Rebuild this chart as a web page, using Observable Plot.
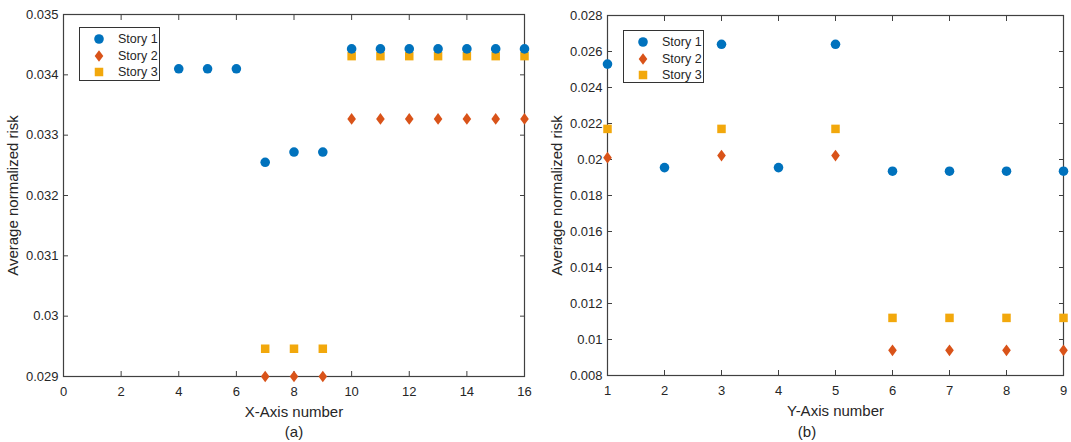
<!DOCTYPE html>
<html>
<head>
<meta charset="utf-8">
<script src="https://cdn.jsdelivr.net/npm/d3@7"></script>
<script src="https://cdn.jsdelivr.net/npm/@observablehq/plot@0.6"></script>
<style>
  html, body { margin: 0; padding: 0; background: #fff; }
  body { width: 1071px; height: 442px; overflow: hidden; font-family: "Liberation Sans", Arial, sans-serif; color: #262626; }
  #row { display: flex; flex-direction: row; }
  .panel { position: relative; }
  .caption { position: absolute; top: 423px; font-size: 15px; line-height: 18px; transform: translateX(-50%); white-space: nowrap; }
  .legend { position: absolute; border: 1px solid #333; background: #fff; box-sizing: border-box; padding: 3px 0 0 0; }
  .legend .item { display: flex; align-items: center; height: 16.5px; font-size: 12.5px; }
  .legend svg { display: block; }
</style>
</head>
<body>
<div id="row"></div>
<script>
// ---------- data ----------
const storyNames = ["Story 1", "Story 2", "Story 3"];
const storyColors = ["#0072BD", "#D95319", "#F2A80C"];

// panel (a)
const aX1 = [4, 5, 6, 7, 8, 9, 10, 11, 12, 13, 14, 15, 16];
const aStory1 = [0.0341, 0.0341, 0.0341, 0.03255, 0.03272, 0.03272, 0.03443, 0.03443, 0.03443, 0.03443, 0.03443, 0.03443, 0.03443];
const aX23 = [7, 8, 9, 10, 11, 12, 13, 14, 15, 16];
const aStory2 = [0.0290, 0.0290, 0.0290, 0.03327, 0.03327, 0.03327, 0.03327, 0.03327, 0.03327, 0.03327];
const aStory3 = [0.02946, 0.02946, 0.02946, 0.03431, 0.03431, 0.03431, 0.03431, 0.03431, 0.03431, 0.03431];
const aXTicks = [0, 2, 4, 6, 8, 10, 12, 14, 16];
const aYTicks = [0.029, 0.030, 0.031, 0.032, 0.033, 0.034, 0.035];

// panel (b)
const bX = [1, 2, 3, 4, 5, 6, 7, 8, 9];
const bStory1 = [0.0253, 0.01955, 0.0264, 0.01955, 0.0264, 0.01935, 0.01935, 0.01935, 0.01935];
const bStory2 = [0.0201, null, 0.02022, null, 0.02022, 0.0094, 0.0094, 0.0094, 0.0094];
const bStory3 = [0.0217, null, 0.0217, null, 0.0217, 0.0112, 0.0112, 0.0112, 0.0112];
const bXTicks = [1, 2, 3, 4, 5, 6, 7, 8, 9];
const bYTicks = [0.008, 0.010, 0.012, 0.014, 0.016, 0.018, 0.020, 0.022, 0.024, 0.026, 0.028];

// ---------- helpers ----------
const tallDiamond = {
  draw(context, size) {
    const r = Math.sqrt(size / Math.PI);
    const h = r * 1.22, w = r * 0.9;
    context.moveTo(0, -h);
    context.lineTo(w, 0);
    context.lineTo(0, h);
    context.lineTo(-w, 0);
    context.closePath();
  }
};
const symbols = ["circle", tallDiamond, "square"];
const fmt = d => String(+d.toFixed(3));

function rows(xs, ys) {
  return xs.map((x, i) => ({x, y: ys[i]})).filter(d => d.y != null);
}

const frameColor = "#404040";
const textColor = "#262626";
const dotR = 4.8;

function makePanel({width, height, ml, mr, mt, mb, xDomain, yDomain, xTicks, yTicks, xLabel, series, caption, captionX, legendPos}) {
  const tickLen = 5;
  const chart = Plot.plot({
    width, height,
    marginLeft: ml, marginRight: mr, marginTop: mt, marginBottom: mb,
    style: {fontFamily: '"Liberation Sans", Arial, sans-serif', fontSize: "13px", color: textColor, background: "#fff", overflow: "visible"},
    x: {domain: xDomain},
    y: {domain: yDomain},
    marks: [
      // tick labels
      Plot.axisX({ticks: xTicks, tickSize: 0, tickPadding: 10, tickFormat: d => String(d), label: null, fontSize: 13}),
      Plot.axisY({ticks: yTicks, tickSize: 0, tickPadding: 5, tickFormat: fmt, label: null, fontSize: 13}),
      // axis titles
      Plot.axisX({ticks: [], tickSize: 0, label: xLabel, labelAnchor: "center", labelOffset: 40, labelArrow: "none", fontSize: 15}),
      Plot.axisY({ticks: [], tickSize: 0, label: "Average normalized risk", labelAnchor: "center", labelOffset: 56, labelArrow: "none", fontSize: 15}),
      // inward ticks on all four sides
      Plot.axisX({anchor: "bottom", ticks: xTicks, tickSize: tickLen, dy: -tickLen, tickFormat: () => "", label: null, stroke: frameColor}),
      Plot.axisX({anchor: "top", ticks: xTicks, tickSize: tickLen, dy: tickLen, tickFormat: () => "", label: null, stroke: frameColor}),
      Plot.axisY({anchor: "left", ticks: yTicks, tickSize: tickLen, dx: tickLen, tickFormat: () => "", label: null, stroke: frameColor}),
      Plot.axisY({anchor: "right", ticks: yTicks, tickSize: tickLen, dx: -tickLen, tickFormat: () => "", label: null, stroke: frameColor}),
      Plot.frame({stroke: frameColor, strokeWidth: 1.2}),
      // series: squares, then diamonds, then circles on top
      ...[2, 1, 0].map(k => Plot.dot(series[k], {x: "x", y: "y", r: dotR, symbol: symbols[k], fill: storyColors[k], stroke: "none"}))
    ]
  });
  const panel = document.createElement("div");
  panel.className = "panel";
  panel.style.width = width + "px";
  panel.style.height = "442px";
  panel.appendChild(chart);

  const cap = document.createElement("div");
  cap.className = "caption";
  cap.style.left = captionX + "px";
  cap.textContent = caption;
  panel.appendChild(cap);

  const leg = document.createElement("div");
  leg.className = "legend";
  leg.style.left = legendPos.left + "px";
  leg.style.top = legendPos.top + "px";
  leg.style.width = legendPos.width + "px";
  leg.style.height = legendPos.height + "px";
  storyNames.forEach((name, k) => {
    const item = document.createElement("div");
    item.className = "item";
    const sw = d3.create("svg").attr("width", 38).attr("height", 16);
    const sym = k === 1 ? tallDiamond : (k === 0 ? d3.symbolCircle : d3.symbolSquare);
    sw.append("path")
      .attr("transform", "translate(19,8)")
      .attr("d", d3.symbol(sym, Math.PI * dotR * dotR)())
      .attr("fill", storyColors[k]);
    item.appendChild(sw.node());
    const t = document.createElement("span");
    t.textContent = name;
    item.appendChild(t);
    leg.appendChild(item);
  });
  panel.appendChild(leg);
  return panel;
}

const row = document.getElementById("row");
row.appendChild(makePanel({
  width: 535, height: 421, ml: 63, mr: 11, mt: 14, mb: 45,
  xDomain: [0, 16], yDomain: [0.029, 0.035],
  xTicks: aXTicks, yTicks: aYTicks, xLabel: "X-Axis number",
  series: [rows(aX1, aStory1), rows(aX23, aStory2), rows(aX23, aStory3)],
  caption: "(a)", captionX: 294,
  legendPos: {left: 79, top: 27, width: 81, height: 54}
}));
row.appendChild(makePanel({
  width: 536, height: 421, ml: 72, mr: 8, mt: 15, mb: 46,
  xDomain: [1, 9], yDomain: [0.008, 0.028],
  xTicks: bXTicks, yTicks: bYTicks, xLabel: "Y-Axis number",
  series: [rows(bX, bStory1), rows(bX, bStory2), rows(bX, bStory3)],
  caption: "(b)", captionX: 272,
  legendPos: {left: 88, top: 30, width: 81, height: 53}
}));
</script>
</body>
</html>
